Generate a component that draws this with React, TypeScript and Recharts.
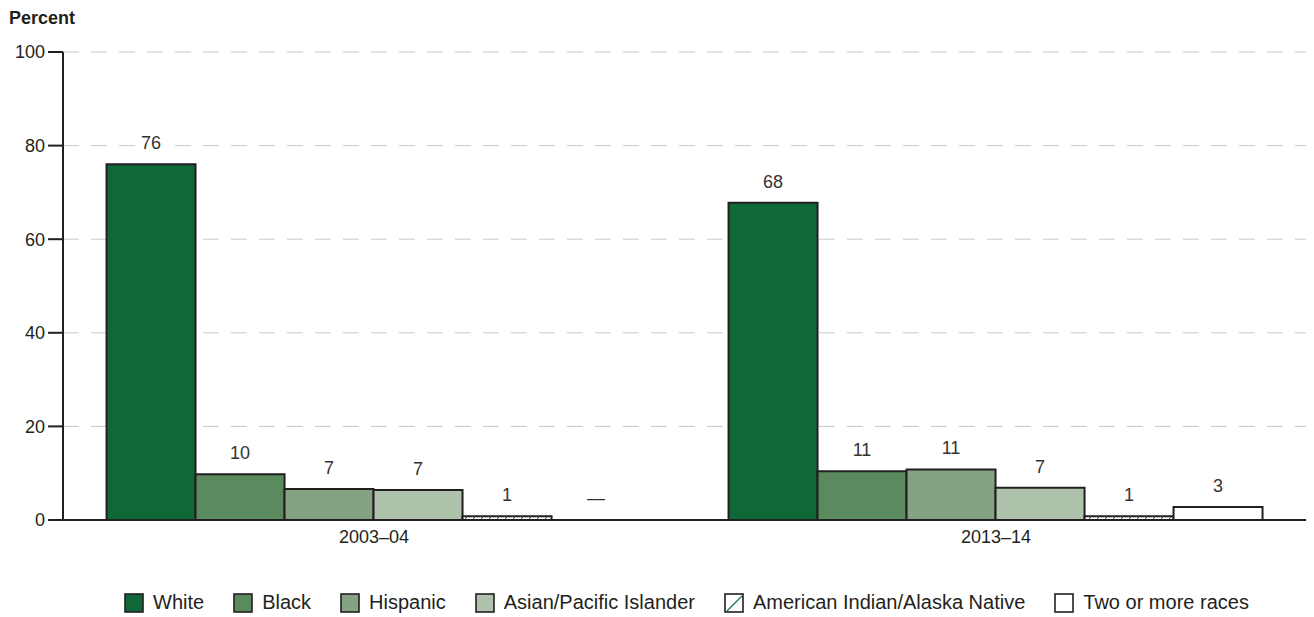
import React from "react";
import {
  BarChart,
  Bar,
  XAxis,
  YAxis,
  CartesianGrid,
  LabelList,
  Rectangle,
} from "recharts";

const CATEGORIES = ["2003–04", "2013–14"];
const WHITE = [76, 67.8];
const BLACK = [9.8, 10.4];
const HISPANIC = [6.6, 10.8];
const ASIAN = [6.4, 6.9];
const AIAN = [0.8, 0.8];
const TWO_OR_MORE = [0, 2.8];

const WHITE_LABELS = ["76", "68"];
const BLACK_LABELS = ["10", "11"];
const HISPANIC_LABELS = ["7", "11"];
const ASIAN_LABELS = ["7", "7"];
const AIAN_LABELS = ["1", "1"];
const TWO_LABELS = ["—", "3"];

const Y_TICKS = [0, 20, 40, 60, 80, 100];

const FONT = "'Liberation Sans', Arial, sans-serif";
const INK = "#231f20";

const SERIES = [
  { key: "white", name: "White", fill: "#0e6837", values: WHITE, labels: WHITE_LABELS },
  { key: "black", name: "Black", fill: "#5b8a5f", values: BLACK, labels: BLACK_LABELS },
  { key: "hispanic", name: "Hispanic", fill: "#84a382", values: HISPANIC, labels: HISPANIC_LABELS },
  { key: "asian", name: "Asian/Pacific Islander", fill: "#aec2ac", values: ASIAN, labels: ASIAN_LABELS },
  { key: "aian", name: "American Indian/Alaska Native", fill: "url(#hatch)", values: AIAN, labels: AIAN_LABELS },
  { key: "two", name: "Two or more races", fill: "#ffffff", values: TWO_OR_MORE, labels: TWO_LABELS },
];

const DATA = CATEGORIES.map((name, i) => ({
  name,
  white: WHITE[i],
  black: BLACK[i],
  hispanic: HISPANIC[i],
  asian: ASIAN[i],
  aian: AIAN[i],
  two: TWO_OR_MORE[i],
}));

// label text looked up by value (the 0 value is the "not available" dash)
const makeLabel = (values: number[], labels: string[]) => (props: any) => {
  const { x, y, width, value } = props;
  let i = values.indexOf(Number(value));
  if (i < 0) i = props.index ?? 0;
  const text = labels[i];
  const cx = Number(x) + Number(width) / 2;
  const ty = Number(y) - 15;
  const w = text.length * 10 + 10;
  return (
    <g>
      <rect x={cx - w / 2} y={ty - 15} width={w} height={19} fill="#fff" />
      <text
        x={cx}
        y={ty}
        textAnchor="middle"
        fontSize={18}
        fontFamily={FONT}
        fill="#333"
      >
        {text}
      </text>
    </g>
  );
};

// zero values keep their slot (so the dash label shows) but draw no box
const barShape = (key: string) => (props: any) =>
  props.payload && props.payload[key] === 0 ? <g /> : <Rectangle {...props} />;

const LegendBox = ({ fill }: { fill: string }) => (
  <svg width={20} height={20} style={{ marginRight: 9, flexShrink: 0 }}>
    <defs>
      <pattern id="hatchLegend" patternUnits="userSpaceOnUse" width={18} height={18}>
        <rect width={18} height={18} fill="#fff" />
        <line x1={3} y1={18} x2={18} y2={3} stroke="#0e6837" strokeWidth={1.2} />
      </pattern>
    </defs>
    <rect
      x={1}
      y={1}
      width={18}
      height={18}
      fill={fill === "url(#hatch)" ? "url(#hatchLegend)" : fill}
      stroke={INK}
      strokeWidth={1.6}
    />
  </svg>
);

export default function App() {
  return (
    <div style={{ position: "relative", width: 1306, height: 609, fontFamily: FONT }}>
      <div
        style={{
          position: "absolute",
          left: 1,
          top: 0,
          fontSize: 18,
          fontWeight: "bold",
          color: INK,
        }}
      >
        Percent
      </div>
      <BarChart
        width={1306}
        height={561}
        data={DATA}
        margin={{ top: 44, right: 7, left: 0, bottom: 19 }}
        barCategoryGap="7%"
        barGap={0}
      >
        <defs>
          <pattern id="hatch" patternUnits="userSpaceOnUse" width={8} height={8}>
            <rect width={8} height={8} fill="#fff" />
            <line x1={0} y1={8} x2={8} y2={0} stroke="#0e6837" strokeWidth={1} />
          </pattern>
        </defs>
        <CartesianGrid
          vertical={false}
          stroke="#c8c8c8"
          strokeDasharray="16 12"
        />
        <XAxis
          dataKey="name"
          axisLine={{ stroke: INK, strokeWidth: 2 }}
          tickLine={false}
          height={30}
          tick={{ fontSize: 18, fill: INK, fontFamily: FONT }}
          tickMargin={4}
        />
        <YAxis
          domain={[0, 100]}
          ticks={Y_TICKS}
          width={55}
          axisLine={{ stroke: INK, strokeWidth: 2 }}
          tickLine={{ stroke: INK, strokeWidth: 2 }}
          tickSize={15}
          tickMargin={3}
          tick={{ fontSize: 18, fill: INK, fontFamily: FONT }}
        />
        {SERIES.map((s) => (
          <Bar
            key={s.key}
            dataKey={s.key}
            name={s.name}
            fill={s.fill}
            stroke={INK}
            strokeWidth={2}
            minPointSize={s.key === "two" ? 1 : 0}
            shape={barShape(s.key)}
            isAnimationActive={false}
          >
            <LabelList dataKey={s.key} content={makeLabel(s.values, s.labels)} />
          </Bar>
        ))}
      </BarChart>
      <div
        style={{
          position: "absolute",
          top: 583,
          left: 0,
          width: 1306,
          display: "flex",
          justifyContent: "flex-start",
          alignItems: "center",
          paddingLeft: 116,
          boxSizing: "border-box",
          fontSize: 20,
          color: INK,
        }}
      >
        {SERIES.map((s) => (
          <div key={s.key} style={{ display: "flex", alignItems: "center", marginRight: 29 }}>
            <LegendBox fill={s.fill} />
            <span>{s.name}</span>
          </div>
        ))}
      </div>
    </div>
  );
}
